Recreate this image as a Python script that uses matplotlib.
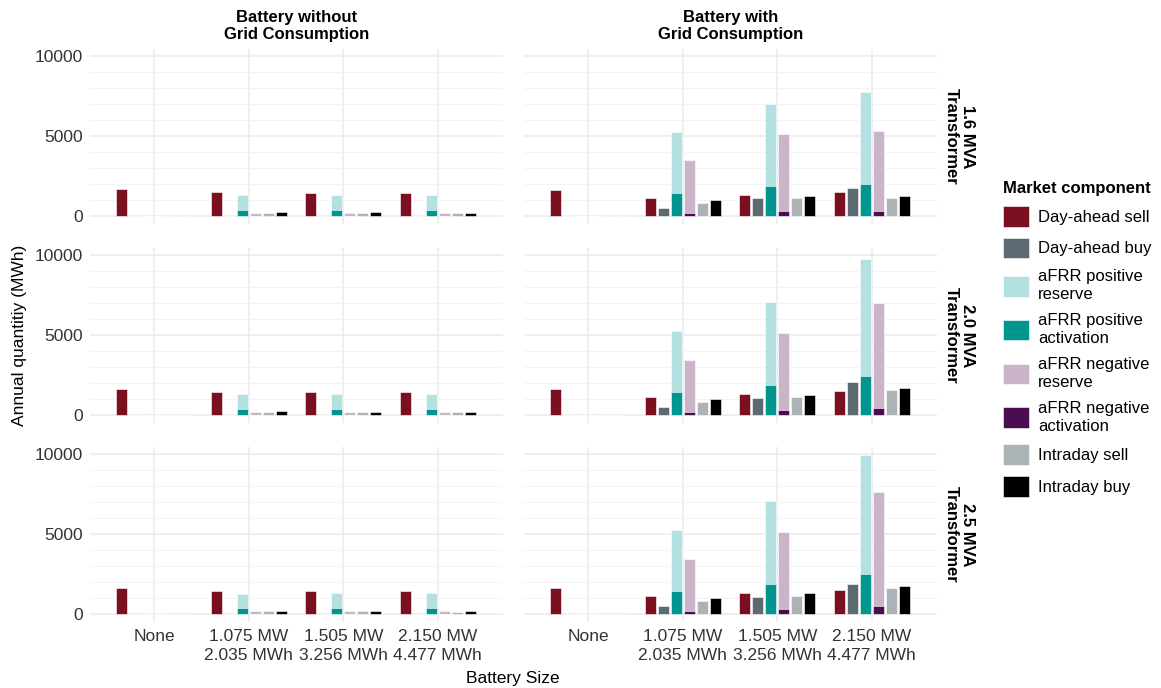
import numpy as np
import matplotlib
matplotlib.use("Agg")
import matplotlib.pyplot as plt
from matplotlib.patches import Patch

plt.rcParams['font.family'] = ['Liberation Sans', 'DejaVu Sans']

# battery sizes on the x axis
sizes = ['None', '1.075 MW\n2.035 MWh', '1.505 MW\n3.256 MWh', '2.150 MW\n4.477 MWh']
scenarios = ['Battery without\nGrid Consumption', 'Battery with\nGrid Consumption']
transformers = ['1.6 MVA\nTransformer', '2.0 MVA\nTransformer', '2.5 MVA\nTransformer']

components = ['Day-ahead sell', 'Day-ahead buy', 'aFRR positive\nreserve', 'aFRR positive\nactivation',
              'aFRR negative\nreserve', 'aFRR negative\nactivation', 'Intraday sell', 'Intraday buy']
colors = ['#7a0f1f', '#5d6a72', '#b3e0e1', '#00968f', '#c9b4ca', '#4a0e50', '#abb3b7', '#000000']
# dodge slot of each component (reserve and activation share a slot)
slot = [0, 1, 2, 2, 3, 3, 4, 5]

# annual quantities (MWh), one row per component, one column per battery size
without_16 = [[1660, 1470, 1460, 1460],
              [0, 0, 0, 0],
              [0, 1300, 1300, 1310],
              [0, 400, 400, 400],
              [0, 190, 180, 180],
              [0, 0, 0, 0],
              [0, 190, 180, 170],
              [0, 240, 230, 220]]
without_20 = [[1650, 1450, 1440, 1440],
              [0, 0, 0, 0],
              [0, 1290, 1290, 1300],
              [0, 390, 390, 390],
              [0, 180, 170, 170],
              [0, 0, 0, 0],
              [0, 180, 170, 160],
              [0, 230, 220, 210]]
without_25 = [[1640, 1440, 1430, 1430],
              [0, 0, 0, 0],
              [0, 1280, 1290, 1300],
              [0, 380, 380, 380],
              [0, 170, 160, 160],
              [0, 0, 0, 0],
              [0, 170, 160, 150],
              [0, 220, 210, 200]]
with_16 = [[1650, 1140, 1300, 1510],
           [0, 480, 1140, 1740],
           [0, 5230, 6980, 7710],
           [0, 1450, 1860, 2010],
           [0, 3470, 5100, 5310],
           [0, 210, 310, 290],
           [0, 830, 1100, 1140],
           [0, 1010, 1280, 1280]]
with_20 = [[1650, 1135, 1300, 1525],
           [0, 495, 1070, 2080],
           [0, 5230, 7080, 9700],
           [0, 1440, 1875, 2450],
           [0, 3460, 5100, 6980],
           [0, 210, 310, 410],
           [0, 800, 1110, 1545],
           [0, 990, 1280, 1670]]
with_25 = [[1650, 1130, 1315, 1525],
           [0, 495, 1070, 1890],
           [0, 5250, 7080, 9920],
           [0, 1460, 1890, 2510],
           [0, 3460, 5140, 7590],
           [0, 205, 310, 475],
           [0, 800, 1110, 1625],
           [0, 990, 1300, 1770]]

panels = [[without_16, with_16], [without_20, with_20], [without_25, with_25]]

fig = plt.figure(figsize=(11.61, 6.88), dpi=100)

W, H = 1161, 688
col_x = [90, 524]
col_w = 413
row_top = [49, 248, 447]
row_h = 175

ymax = max(np.max(p) for row in panels for p in row)
ylo, yhi = -0.05 * ymax, 1.05 * ymax
step = 0.138
bw = 0.118
x = np.arange(len(sizes))
fs = 12.5

for r in range(3):
    for c in range(2):
        ax = fig.add_axes([col_x[c] / W, 1 - (row_top[r] + row_h) / H, col_w / W, row_h / H])
        vals = np.array(panels[r][c])
        for k in range(len(components)):
            ax.bar(x + (slot[k] - 2.5) * step, vals[k], width=bw, color=colors[k],
                   edgecolor='white', linewidth=0.4, zorder=2 + (k in (3, 5)))
        ax.set_xlim(-0.68, 3.69)
        ax.set_ylim(ylo, yhi)
        ax.set_yticks([0, 5000, 10000])
        ax.set_yticks(np.arange(0, 10001, 1000), minor=True)
        ax.set_xticks(x)
        ax.grid(True, which='major', color='#ebebeb', linewidth=1.1, zorder=0)
        ax.grid(True, which='minor', axis='y', color='#f4f4f4', linewidth=0.8, zorder=0)
        ax.set_axisbelow(True)
        for s in ax.spines.values():
            s.set_visible(False)
        ax.tick_params(which='both', length=0, labelsize=fs, labelcolor='#333333', pad=5)
        if c == 0:
            ax.set_yticklabels(['0', '5000', '10000'])
        else:
            ax.set_yticklabels([])
        if r == 2:
            ax.set_xticklabels(sizes, linespacing=1.3)
        else:
            ax.set_xticklabels([])
        if r == 0:
            ax.set_title(scenarios[c], fontsize=12, fontweight='bold', pad=7, linespacing=1.15)
        if c == 1:
            ax.text(1.055, 0.5, transformers[r], transform=ax.transAxes, rotation=270,
                    ha='center', va='center', fontsize=12, fontweight='bold', linespacing=1.1)

fig.text(20 / W, 1 - 335 / H, 'Annual quantitiy (MWh)', rotation=90, ha='center', va='center',
         fontsize=fs)
fig.text(513 / W, 1 - 679 / H, 'Battery Size', ha='center', va='center', fontsize=fs)

handles = [Patch(facecolor=col, edgecolor='white', linewidth=0.4) for col in colors]
leg = fig.legend(handles, components, loc='upper left', bbox_to_anchor=(988 / W, 1 - 166 / H),
                 frameon=False, title='Market component', fontsize=12, title_fontsize=12,
                 handlelength=1.55, handleheight=1.55, handletextpad=0.55, labelspacing=0.62,
                 alignment='left')
leg.get_title().set_fontweight('bold')
for t in leg.get_texts():
    t.set_linespacing(1.3)

fig.savefig('out.png', dpi=100)
